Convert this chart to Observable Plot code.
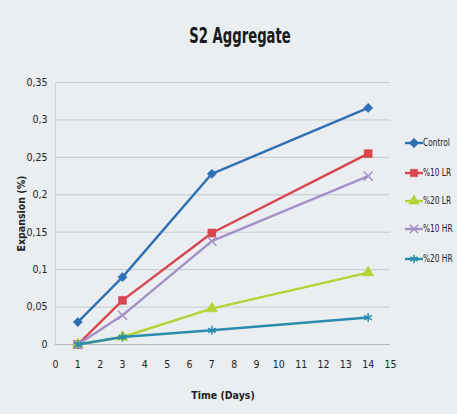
<!DOCTYPE html>
<html><head><meta charset="utf-8">
<script src="https://cdn.jsdelivr.net/npm/d3@7"></script>
<script src="https://cdn.jsdelivr.net/npm/@observablehq/plot@0.6"></script>
<style>
html,body{margin:0;padding:0;width:457px;height:414px;overflow:hidden;background:#eaeef0;}
#wrap{position:relative;width:457px;height:414px;font-family:"Liberation Sans Narrow","DejaVu Sans Condensed",sans-serif;}
#title{height:62px;position:relative;}
#title span{position:absolute;left:240px;top:26px;font-weight:bold;font-size:21px;line-height:21px;color:#1a1a1a;white-space:nowrap;transform:translateX(-50%) scaleX(0.7);}
#legend{position:absolute;left:405px;top:136px;font-size:11px;color:#222;}
#legend .row{position:absolute;left:0;display:flex;align-items:center;white-space:nowrap;}
#legend .lbl{display:inline-block;line-height:14px;transform:scaleX(0.75);transform-origin:0 50%;}
</style></head>
<body><div id="wrap"><div id="title"><span>S2 Aggregate</span></div><div id="chart"></div><div id="legend"></div></div>
<script>
const days = [1, 3, 7, 14];
const seriesNames = ["Control", "%10 LR", "%20 LR", "%10 HR", "%20 HR"];
const control = [0.030, 0.090, 0.228, 0.316];
const lr10 = [0.000, 0.059, 0.149, 0.255];
const lr20 = [0.000, 0.010, 0.048, 0.096];
const hr10 = [0.000, 0.039, 0.138, 0.225];
const hr20 = [0.000, 0.010, 0.019, 0.036];
const yTicks = [0, 0.05, 0.1, 0.15, 0.2, 0.25, 0.3, 0.35];
const xTicks = [0,1,2,3,4,5,6,7,8,9,10,11,12,13,14,15];
const colors = ["#2f6fb5", "#d8454f", "#b6d336", "#a490c8", "#2b8cad"];
const symbols = ["diamond2", "square", "triangle", "times", "asterisk"];
const filled = [true, true, true, false, false];
const legendRowsY = [143, 173, 201, 229, 259];

const allSeries = [control, lr10, lr20, hr10, hr20];
const data = [];
allSeries.forEach((vals, i) => vals.forEach((v, j) => data.push({series: seriesNames[i], day: days[j], value: v})));

const fmt = d => String(d).replace(".", ",");
const font = '"Liberation Sans Narrow","DejaVu Sans Condensed",sans-serif';

const marks = [
  Plot.gridY(yTicks, {stroke: "#c6cacc", strokeOpacity: 1}),
  Plot.ruleX([0], {stroke: "#cdd1d3"}),
  Plot.ruleY([0], {stroke: "#b5b9bb"}),
  Plot.axisY(yTicks, {tickFormat: fmt, tickSize: 0, tickPadding: 8, fontSize: 10.5, label: "Expansion (%)", labelAnchor: "center", labelArrow: "none", labelOffset: 38}),
  Plot.axisX(xTicks, {tickSize: 0, tickPadding: 16, fontSize: 10.5, label: "Time (Days)", labelAnchor: "center", labelArrow: "none", labelOffset: 54})
];
seriesNames.forEach((name, i) => {
  const d = data.filter(r => r.series === name);
  marks.push(Plot.line(d, {x: "day", y: "value", stroke: colors[i], strokeWidth: 2.4}));
  marks.push(Plot.dot(d, {x: "day", y: "value", symbol: () => symbols[i], r: i === 1 ? 4.5 : 4.2,
    fill: filled[i] ? colors[i] : "none", stroke: colors[i], strokeWidth: filled[i] ? 0.5 : 1.5}));
});

const chart = Plot.plot({
  width: 457, height: 352,
  marginTop: 20, marginBottom: 70, marginLeft: 55, marginRight: 67,
  style: {background: "transparent", fontFamily: font, color: "#222"},
  x: {domain: [0, 15]},
  y: {domain: [0, 0.35]},
  marks
});
chart.querySelectorAll('[aria-label="y-axis label"] text, [aria-label="x-axis label"] text').forEach(t => {
  t.setAttribute("font-weight", "bold"); t.setAttribute("font-size", "10.5");
});
document.getElementById("chart").appendChild(chart);

const leg = document.getElementById("legend");
const symPaths = {
  diamond2: d3.symbol(d3.symbolDiamond2, 60)(),
  square: d3.symbol(d3.symbolSquare, 55)(),
  triangle: d3.symbol(d3.symbolTriangle, 50)(),
  times: d3.symbol(d3.symbolTimes, 50)(),
  asterisk: d3.symbol(d3.symbolAsterisk, 50)()
};
seriesNames.forEach((name, i) => {
  const row = document.createElement("div");
  row.className = "row";
  row.style.top = (legendRowsY[i] - 136 - 7) + "px";
  row.innerHTML = `<svg width="18" height="14"><line x1="0" x2="18" y1="7" y2="7" stroke="${colors[i]}" stroke-width="2.4"/>` +
    `<path transform="translate(9,7)" d="${symPaths[symbols[i]]}" fill="${filled[i] ? colors[i] : 'none'}" stroke="${colors[i]}" stroke-width="${filled[i] ? 0.5 : 1.5}"/></svg>` +
    `<span class="lbl">${name}</span>`;
  leg.appendChild(row);
});
</script></body></html>
